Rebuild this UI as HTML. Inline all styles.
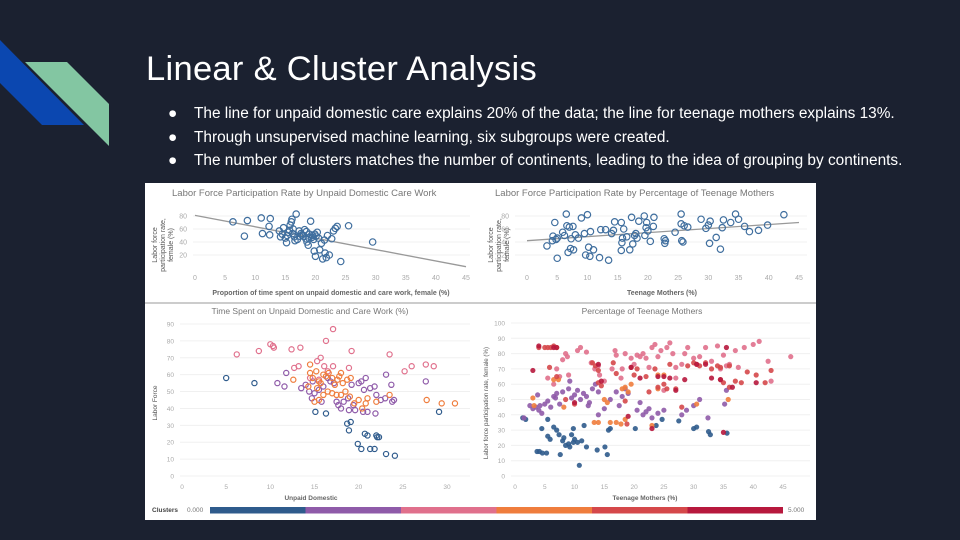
<!DOCTYPE html>
<html><head><meta charset="utf-8"><style>
body{margin:0;width:960px;height:540px;background:#1b2130;overflow:hidden;position:relative;font-family:"Liberation Sans",sans-serif}
.t{position:absolute;color:#fff}
</style></head><body>
<svg width="120" height="200" style="position:absolute;left:0;top:0">
<polygon points="0,40 84,125 42,125 0,83" fill="#0b47b0"/>
<polygon points="25,62 67,62 109,104 109,146" fill="#83c6a2"/>
</svg>
<div class="t" style="left:146px;top:50px;font-size:34.5px;font-weight:300;letter-spacing:0.3px">Linear &amp; Cluster Analysis</div>
<div style="position:absolute;left:168px;top:102px;color:#fff;font-size:15.4px;line-height:23.5px">
<div><span style="display:inline-block;width:26px">●</span>The line for unpaid domestic care explains 20% of the data; the line for teenage mothers explains 13%.</div>
<div><span style="display:inline-block;width:26px">●</span>Through unsupervised machine learning, six subgroups were created.</div>
<div><span style="display:inline-block;width:26px">●</span>The number of clusters matches the number of continents, leading to the idea of grouping by continents.</div>
</div>
<svg id="c" width="671" height="337" style="position:absolute;left:145px;top:183px;background:#fff" font-family="Liberation Sans, sans-serif"></svg>
<script>
const tlPts=[[6.3,71],[8.2,49],[8.7,73],[11,77],[11.2,53],[12.3,64],[12.4,51],[12.5,76],[14,57],[14.5,52],[14.7,62],[15,46],[15.2,39],[15.5,55],[15.8,66],[16,71],[16.1,75],[15.7,58],[16.3,60],[16.5,48],[16.8,83],[17,44],[17.3,57],[17.6,53],[18,49],[18.2,59],[18.4,45],[18.6,40],[18.8,35],[19,52],[19.2,72],[19.4,47],[19.7,44],[19.8,26],[20,18],[20.1,49],[20.3,55],[20.7,28],[21,38],[21.2,14],[21.5,43],[21.6,23],[21.8,16],[22,50],[22.3,20],[22.7,45],[23,57],[23.3,61],[23.6,64],[24.2,10],[25.5,65],[29.5,40],[15.3,50],[16.2,53],[17.8,51],[18.5,56],[19.5,50],[20.5,46],[14.2,48],[16.6,42],[17.4,49],[18.9,46],[19.9,52]];
const tlLine=[[0,81],[45,2]];
const trPts=[[3.3,34],[4.2,42],[4.3,49],[4.6,70],[5,46],[5,15],[4.8,44],[5.9,55],[6.2,50],[6.5,83],[6.6,65],[6.8,24],[7,63],[7.2,30],[7.3,45],[7.6,64],[7.7,28],[8,51],[8.5,46],[9,77],[9.5,53],[9.7,20],[10,82],[10.2,32],[10.4,18],[10.5,56],[11,28],[12,16],[12.2,59],[13,59],[13.5,12],[14,53],[14.3,58],[14.5,71],[15.6,27],[15.7,39],[15.8,46],[15.6,70],[16,60],[16.5,48],[17,28],[17.3,78],[17.5,37],[17.8,50],[18,53],[18.2,46],[18.5,72],[19.4,80],[19.5,50],[19.7,62],[19.8,70],[20,57],[20.4,41],[20.9,64],[21,78],[22.7,45],[22.8,38],[22.9,42],[24.5,55],[25.5,83],[25.5,68],[25.6,42],[25.8,40],[26,65],[26.6,63],[28.8,75],[29.6,61],[30,66],[30.2,38],[30.3,72],[31.3,47],[32,29],[32.3,62],[32.5,74],[33.7,70],[34.5,83],[35,75],[36,64],[36.8,56],[38.3,58],[39.8,66],[42.5,82]];
const trLine=[[0,42],[45,70]];
const clusterColors=["#2f5b8c","#8f5ba9","#e0708c","#ef7d3d","#d5484a","#b7183d"];
const blBlue=[[5,58],[8.2,55],[16.3,37],[18.7,31],[19.1,32],[18.9,27],[19.9,19],[20.3,16],[21,24],[20.7,25],[21.3,16],[21.8,16],[22,24],[22.1,23],[22.3,23],[23.1,13],[24.1,12],[29.1,38],[15.1,38]];
const blPurple=[[11.8,61],[10.8,55],[11.6,53],[13.5,52],[14,54],[14.4,50],[14.7,46],[15,49],[15.5,51],[16,53],[16.5,58],[17.2,55],[17.5,44],[17.7,42],[18,40],[18.3,44],[18.8,46],[18.9,39],[19.4,42],[19.6,39],[20,55],[20.3,56],[20.5,38],[20.8,58],[21,38],[21.3,52],[21.8,53],[22,48],[22.5,45],[23,46],[23.1,60],[23.7,54],[23.8,44],[24,45],[27.6,56],[14.8,56],[16.8,56],[19.2,54],[20.6,51],[21.9,37],[15.8,44]];
const blPink=[[6.2,72],[8.7,74],[10,78],[10.3,77],[10.4,76],[12.4,75],[13.4,76],[12.7,64],[13.2,65],[15.3,68],[15.7,70],[16.3,80],[17.1,87],[16.1,65],[16.5,62],[17.1,65],[19.2,74],[23.5,72],[25.2,62],[26,65],[27.6,66],[28.5,65],[15.5,57],[18.9,64],[14.5,58]];
const blOrange=[[12.6,57],[14.5,66],[14.5,61],[14.8,58],[15.2,62],[15.5,56],[15.7,55],[16,60],[16.3,59],[16.6,61],[17,58],[17.3,54],[17.6,57],[17.8,59],[18,61],[18.2,55],[18.5,50],[18.7,57],[19.1,58],[15,44],[15.5,45],[16,48],[16.5,50],[17,49],[17.5,48],[18,48],[19,47],[19.5,43],[20,45],[20.4,40],[20.8,43],[21,46],[22,44],[23.5,48],[27.7,45],[29.4,43],[30.9,43],[14.3,53],[15.3,52]];
const brBlue=[[1.3,38],[1.8,37],[3.7,16],[4.1,16],[4.6,15],[5.3,15],[5.5,37],[5.5,26],[5.9,24],[6.5,32],[7,30],[7.4,27],[7.6,14],[8,23],[8.2,25],[8.5,20],[9,21],[9.2,19],[9.5,27],[9.8,22],[10,24],[10.5,22],[10.8,7],[11.2,23],[11.6,33],[12,19],[13.8,17],[15.1,19],[15.5,14],[15.7,30],[16,31],[20.2,31],[24.7,37],[27.5,36],[30,31],[30.5,32],[32.5,29],[32.8,27],[35.6,28],[23.7,33],[9.8,31],[4.5,31]];
const brPurple=[[1.5,38],[2.5,46],[3,44],[3.8,53],[4,43],[4.5,41],[5,47],[5.5,49],[6,45],[6.5,52],[7,54],[7.5,47],[8,55],[9,57],[9.5,51],[10,53],[10.5,56],[11,50],[11.5,54],[12,52],[12.3,46],[12.5,48],[13,57],[13.5,60],[14,55],[14,40],[15,44],[16,50],[17,55],[17.5,46],[18,52],[18.5,57],[19,54],[20.5,43],[21,48],[21.5,40],[22,42],[22.5,44],[23,38],[24,41],[25,43],[28,40],[28.8,43],[30,46],[31,50],[32.4,38],[35.2,47],[35.5,56],[9.2,62],[4.2,46],[3.5,45],[6.8,51]];
const brPink=[[5.5,64],[6.5,60],[7,70],[7.5,65],[8,76],[8.5,80],[9,66],[10.5,82],[11,84],[12,81],[12.8,74],[13.4,70],[14,72],[14.2,66],[15,62],[16.3,70],[16.8,82],[17,79],[18,70],[18.5,80],[19.5,77],[20,73],[20.5,79],[21,78],[21.5,80],[22,77],[22.5,71],[23,84],[23.5,86],[24,78],[24.5,82],[25.5,84],[26,87],[26.5,80],[27,71],[28,73],[28.5,80],[29,84],[30,77],[31,78],[32,84],[33,75],[34,85],[34.5,70],[35,79],[35.5,72],[36,73],[37,82],[37.5,71],[38.5,84],[40,86],[41,88],[42.5,75],[43,62],[46.3,78],[27,64],[17.8,64],[25,56],[8.8,78]];
const brOrange=[[3,51],[3.2,46],[6.5,63],[7.3,63],[8.2,45],[13.3,35],[14,35],[15,50],[15.5,48],[16,35],[17,35],[17.8,34],[18,57],[18.5,58],[19,55],[18.5,37],[19.5,60],[23,33],[24,57],[24,66],[25,66],[30.5,47],[35.8,50],[7,84]];
const brRed=[[4,84],[5,84],[5.5,84],[6,84],[6.5,85],[5.8,71],[7,65],[8.5,50],[10,47],[13,74],[13.5,72],[14,69],[14.5,59],[14,61],[16.5,74],[17,67],[18.5,49],[18.8,34],[19.5,71],[20,66],[20.5,70],[22,65],[22.5,55],[23.5,70],[24,58],[25,60],[25.5,57],[26,73],[27,57],[28,45],[29,72],[30,74],[30.5,73],[31,72],[32,74],[33,70],[34,72],[34.5,71],[35,61],[36,58],[37,62],[38,61],[39,68],[40.5,66],[42,61],[43,69],[34.5,63],[36,72]];
const brCrimson=[[3,69],[4,85],[6.5,84],[7,84],[10,48],[14,73],[14.5,62],[19,39],[19.5,71],[21,64],[23,31],[24,65],[25,65],[26,64],[27,56],[28.5,63],[30.5,73],[32,73],[33,64],[34.5,63],[35.5,84],[36.5,58],[40.5,61],[35,28.5]];
const topXTicks=[0,5,10,15,20,25,30,35,40,45];
const topYTicks=[20,40,60,80];
const blXTicks=[0,5,10,15,20,25,30];
const blYTicks=[0,10,20,30,40,50,60,70,80,90];
const brXTicks=[0,5,10,15,20,25,30,35,40,45];
const brYTicks=[0,10,20,30,40,50,60,70,80,90,100];

const S=document.getElementById('c'),NS='http://www.w3.org/2000/svg';
function el(t,a,txt){const e=document.createElementNS(NS,t);for(const k in a)e.setAttribute(k,a[k]);if(txt!==undefined)e.textContent=txt;S.appendChild(e);return e;}
function lin(d0,d1,r0,r1){return v=>r0+(v-d0)*(r1-r0)/(d1-d0);}
function axes(name,X,Y,xt,yt,x0,x1,y0,y1,fs){
  yt.forEach(v=>{const g=el('line',{x1:x0,x2:x1,y1:Y(v),y2:Y(v),stroke:'#f0f0f0','stroke-width':1});
    
    const t=el('text',{x:x0-6,y:Y(v)+2.5,'font-size':fs,fill:'#aaa','text-anchor':'end'},v);
    });
  xt.forEach(v=>{const t=el('text',{x:X(v),y:y0,'font-size':fs,fill:'#aaa','text-anchor':'middle'},v);
    });
}
function dots(name,pts,X,Y,col,fill,r){pts.forEach(p=>{const c=el('circle',{cx:X(p[0]),cy:Y(p[1]),r:r,fill:fill?col:'none',stroke:col,'stroke-width':fill?0:1.2,'fill-opacity':fill?0.9:0});
  });}
function txt(name,x,y,s,fs,fill,anchor,rot,bold){const t=el('text',{x:x,y:y,'font-size':fs,fill:fill,'text-anchor':anchor||'start','font-weight':bold?'bold':'normal'},s);
  if(rot)t.setAttribute('transform','rotate(-90 '+x+' '+y+')');return t;}

let X=lin(0,45,50,321),Y=lin(0,80,85,33);
axes('tl',X,Y,topXTicks,topYTicks,48,325,97,0,7);
txt('tl-title',27,13,'Labor Force Participation Rate by Unpaid Domestic Care Work',9.5,'#777');
txt('tl-y-title',12,62,'Labor force',7,'#555','middle',1);txt('tl-y-title',20,62,'participation rate,',7,'#555','middle',1);txt('tl-y-title',28,62,'female (%)',7,'#555','middle',1);
txt('tl-x-title',186,112,'Proportion of time spent on unpaid domestic and care work, female (%)',7,'#666','middle',0,1);
let l=el('line',{x1:X(tlLine[0][0]),y1:Y(tlLine[0][1]),x2:X(tlLine[1][0]),y2:Y(tlLine[1][1]),stroke:'#999','stroke-width':1.3});
dots('tl-point',tlPts,X,Y,'#3f6e9e',false,3.2);

X=lin(0,45,382,654);Y=lin(0,80,85,33);
axes('tr',X,Y,topXTicks,topYTicks,370,662,97,0,7);
txt('tr-title',350,13,'Labor Force Participation Rate by Percentage of Teenage Mothers',9.5,'#777');
txt('tr-y-title',348,62,'Labor force',7,'#555','middle',1);txt('tr-y-title',356,62,'participation rate,',7,'#555','middle',1);txt('tr-y-title',364,62,'female (%)',7,'#555','middle',1);
txt('tr-x-title',517,112,'Teenage Mothers (%)',7,'#666','middle',0,1);
l=el('line',{x1:X(trLine[0][0]),y1:Y(trLine[0][1]),x2:X(trLine[1][0]),y2:Y(trLine[1][1]),stroke:'#999','stroke-width':1.3});
dots('tr-point',trPts,X,Y,'#3f6e9e',false,3.2);

l=el('line',{x1:0,x2:671,y1:120,y2:120,stroke:'#999','stroke-width':1});

X=lin(0,30,37,302);Y=lin(0,90,293,141);
axes('bl',X,Y,blXTicks,blYTicks,35,325,306,0,6.5);
txt('bl-title',165,131,'Time Spent on Unpaid Domestic and Care Work (%)',8.5,'#777','middle');
txt('bl-y-title',12,220,'Labor Force',6.5,'#555','middle',1);
txt('bl-x-title',166,317,'Unpaid Domestic',6.5,'#666','middle',0,1);
[[blBlue,0],[blPurple,1],[blPink,2],[blOrange,3]].forEach(a=>dots('bl-point-cluster-'+a[1],a[0],X,Y,clusterColors[a[1]],false,2.6));

X=lin(0,45,370,638);Y=lin(0,100,293,140);
axes('br',X,Y,brXTicks,brYTicks,366,665,306,0,6.5);
txt('br-title',497,131,'Percentage of Teenage Mothers',8.5,'#777','middle');
txt('br-y-title',343,220,'Labor force participation rate, female (%)',6.2,'#555','middle',1);
txt('br-x-title',500,317,'Teenage Mothers (%)',6.5,'#666','middle',0,1);
[[brBlue,0],[brPurple,1],[brPink,2],[brOrange,3],[brRed,4],[brCrimson,5]].forEach(a=>dots('br-point-cluster-'+a[1],a[0],X,Y,clusterColors[a[1]],true,2.6));

txt('legend-title',7,329,'Clusters',6.5,'#444','start',0,1);
txt('legend-min',42,329,'0.000',6.5,'#777');
txt('legend-max',643,329,'5.000',6.5,'#777');
const legendSteps=[0,1,2,3,4,5];
legendSteps.forEach(i=>{const r=el('rect',{x:65+i*95.5,y:324,width:95.5,height:6.5,fill:clusterColors[i]});});
</script>
</body></html>
